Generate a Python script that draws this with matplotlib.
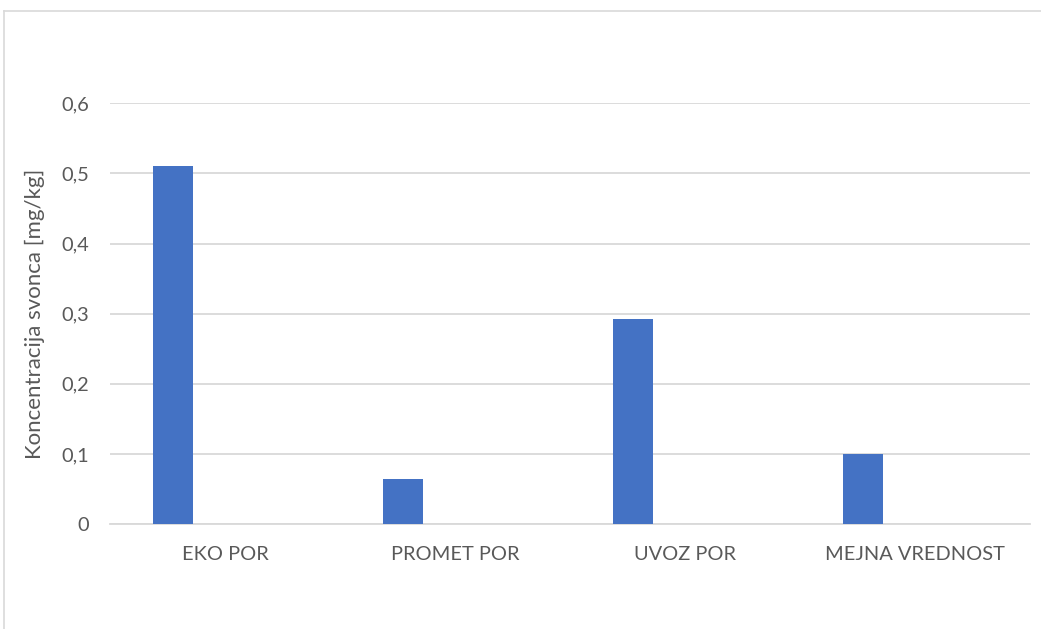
import matplotlib.pyplot as plt
from matplotlib.lines import Line2D

categories = ['EKO POR', 'PROMET POR', 'UVOZ POR', 'MEJNA VREDNOST']
values = [0.51, 0.064, 0.292, 0.1]
yticks = [0, 0.1, 0.2, 0.3, 0.4, 0.5, 0.6]
ytick_labels = ['0', '0,1', '0,2', '0,3', '0,4', '0,5', '0,6']

plt.rcParams['font.family'] = ['Lato', 'DejaVu Sans']
text_col = '#595959'
grid_col = '#d9d9d9'

fig = plt.figure(figsize=(10.41, 6.29), dpi=100)
ax = fig.add_axes([110 / 1041, 1 - 524 / 629, 920 / 1041, (524 - 103.3) / 629])

# bars sit left of the category centre (clustered layout, second slot empty)
offset = -0.225
width = 0.174
xs = [i + offset for i in range(len(categories))]
ax.bar(xs, values, width=width, color='#4472C4', zorder=3)

ax.set_xlim(-0.5, len(categories) - 0.5)
ax.set_ylim(0, 0.6)
ax.set_yticks(yticks)
ax.set_yticklabels(ytick_labels)
ax.set_xticks(range(len(categories)))
ax.set_xticklabels(categories)
ax.tick_params(axis='y', length=0, pad=15, labelsize=14.4, labelcolor=text_col)
ax.tick_params(axis='x', length=0, pad=16, labelsize=14.4, labelcolor=text_col)

ax.grid(axis='y', color=grid_col, linewidth=1.3, zorder=0)
for s in ['top', 'right', 'left']:
    ax.spines[s].set_visible(False)
ax.spines['bottom'].set_color(grid_col)
ax.spines['bottom'].set_linewidth(1.3)

fig.text(35 / 1041, 1 - 314 / 629, 'Koncentracija svonca [mg/kg]', rotation=90,
         ha='center', va='center', fontsize=16, color=text_col)

# chart frame (left and top edges)
fig.add_artist(Line2D([3.5 / 1041, 3.5 / 1041], [0, 1 - 11 / 629],
                      transform=fig.transFigure, color=grid_col, linewidth=1.2))
fig.add_artist(Line2D([3.5 / 1041, 1], [1 - 11 / 629, 1 - 11 / 629],
                      transform=fig.transFigure, color=grid_col, linewidth=1.2))

fig.savefig('out.png', dpi=100)
